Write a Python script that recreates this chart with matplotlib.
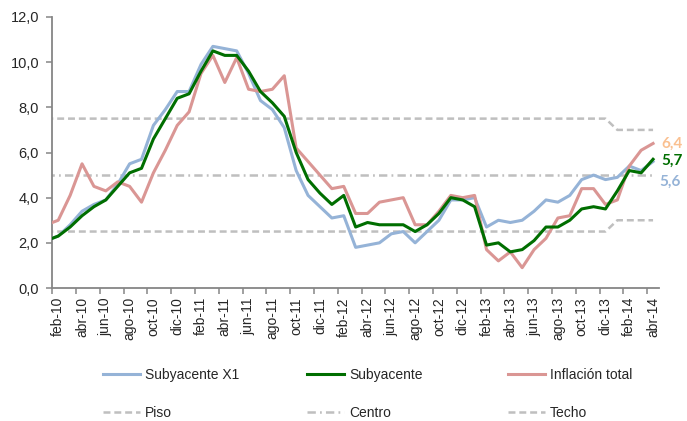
import matplotlib
matplotlib.use("Agg")
import matplotlib.pyplot as plt
import numpy as np

plt.rcParams['font.family'] = ['Liberation Sans', 'DejaVu Sans']
plt.rcParams['lines.scale_dashes'] = False

# months from ene-10 to abr-14
mes = ['ene', 'feb', 'mar', 'abr', 'may', 'jun', 'jul', 'ago', 'sep', 'oct', 'nov', 'dic']
months = [f"{mes[m]}-{y % 100:02d}" for y in range(2010, 2015) for m in range(12)]
months = months[:months.index('abr-14') + 1]

subyacente_x1 = [2.1, 2.3, 2.8, 3.4, 3.7, 3.9, 4.6, 5.5, 5.7, 7.2, 7.9, 8.7, 8.7, 9.9,
                 10.7, 10.6, 10.5, 9.5, 8.3, 7.9, 7.1, 5.2, 4.1, 3.6, 3.1, 3.2, 1.8,
                 1.9, 2.0, 2.4, 2.5, 2.0, 2.5, 3.0, 3.9, 3.9, 4.0, 2.7, 3.0, 2.9, 3.0,
                 3.4, 3.9, 3.8, 4.1, 4.8, 5.0, 4.8, 4.9, 5.4, 5.2, 5.6]
subyacente = [2.1, 2.3, 2.7, 3.2, 3.6, 3.9, 4.5, 5.1, 5.3, 6.6, 7.5, 8.4, 8.6, 9.6,
              10.5, 10.3, 10.3, 9.6, 8.7, 8.2, 7.6, 6.0, 4.8, 4.2, 3.7, 4.1, 2.7,
              2.9, 2.8, 2.8, 2.8, 2.5, 2.8, 3.3, 4.0, 3.9, 3.6, 1.9, 2.0, 1.6, 1.7,
              2.1, 2.7, 2.7, 3.0, 3.5, 3.6, 3.5, 4.3, 5.2, 5.1, 5.7]
inflacion_total = [2.8, 3.0, 4.1, 5.5, 4.5, 4.3, 4.7, 4.5, 3.8, 5.1, 6.1, 7.2, 7.8, 9.5,
                   10.3, 9.1, 10.2, 8.8, 8.7, 8.8, 9.4, 6.2, 5.6, 5.0, 4.4, 4.5, 3.3,
                   3.3, 3.8, 3.9, 4.0, 2.8, 2.8, 3.4, 4.1, 4.0, 4.1, 1.7, 1.2, 1.6, 0.9,
                   1.7, 2.2, 3.1, 3.2, 4.4, 4.4, 3.7, 3.9, 5.4, 6.1, 6.4]
n_before = months.index('ene-14')
piso = [2.5] * n_before + [3.0] * (len(months) - n_before)
centro = [5.0] * len(months)
techo = [7.5] * n_before + [7.0] * (len(months) - n_before)

x = np.arange(len(months))

fig = plt.figure(figsize=(6.87, 4.21), dpi=100)
ax = fig.add_axes([52.3 / 687, 1 - 288 / 421, (659 - 52.3) / 687, (288 - 17) / 421])

gray = '#BFBFBF'
c_blue = '#95B3D7'
c_green = '#006E00'
c_pink = '#DA9694'
lw = 2.2

l_piso, = ax.plot(x, piso, color=gray, lw=1.8, dashes=(5, 2.8), zorder=1)
l_centro, = ax.plot(x, centro, color=gray, lw=1.8, dashes=(6, 3, 1.3, 3), zorder=1)
l_techo, = ax.plot(x, techo, color=gray, lw=1.8, dashes=(5, 2.8), zorder=1)
l_x1, = ax.plot(x, subyacente_x1, color=c_blue, lw=lw, zorder=3)
l_sub, = ax.plot(x, subyacente, color=c_green, lw=lw, zorder=4)
l_inf, = ax.plot(x, inflacion_total, color=c_pink, lw=lw, zorder=3.5)

ax.set_xlim(0.5, len(months) - 0.5)
ax.set_ylim(0, 12)
ax.set_yticks(np.arange(0, 12.1, 2))
ax.set_yticklabels([f"{v:.1f}".replace('.', ',') for v in np.arange(0, 12.1, 2)],
                   fontsize=10.5, color='#262626')
lab_idx = list(range(1, len(months), 2))
ax.set_xticks(lab_idx)
ax.set_xticklabels([months[i] for i in lab_idx], rotation=90, fontsize=10,
                   color='#262626')
ax.set_xticks(np.arange(0.5, len(months) - 1, 2), minor=True)
ax.tick_params(axis='x', which='major', length=0, pad=6.5)
ax.tick_params(axis='x', which='minor', length=4, width=1.1, color='#868686')
ax.tick_params(axis='y', length=4, width=1.1, color='#868686', pad=5.5)

for s in ['top', 'right']:
    ax.spines[s].set_visible(False)
for s in ['left', 'bottom']:
    ax.spines[s].set_color('#868686')
    ax.spines[s].set_linewidth(1.3)

# end labels
last = len(months) - 1
fmt = lambda v: f"{v:.1f}".replace('.', ',')
ax.annotate(fmt(inflacion_total[-1]), (last, inflacion_total[-1]), xytext=(8, 0),
            textcoords='offset pixels', color='#FAC090', fontweight='bold',
            fontsize=11, va='center', ha='left', family=['Lato', 'DejaVu Sans'],
            annotation_clip=False)
ax.annotate(fmt(subyacente[-1]), (last, subyacente[-1]), xytext=(8, -2),
            textcoords='offset pixels', color=c_green, fontweight='bold',
            fontsize=11, va='center', ha='left', family=['Lato', 'DejaVu Sans'],
            annotation_clip=False)
ax.annotate(fmt(subyacente_x1[-1]), (last, subyacente_x1[-1]), xytext=(6, -20),
            textcoords='offset pixels', color=c_blue, fontweight='bold',
            fontsize=11, va='center', ha='left', family=['Lato', 'DejaVu Sans'],
            annotation_clip=False)

# legend: three columns of two rows
cols = [([l_x1, l_piso], ['Subyacente X1', 'Piso'], 103),
        ([l_sub, l_centro], ['Subyacente', 'Centro'], 307),
        ([l_inf, l_techo], ['Inflación total', 'Techo'], 508)]
for hs, ls, xp in cols:
    fig.legend(hs, ls, loc='center left', bbox_to_anchor=(xp / 687, 1 - 394 / 421),
               frameon=False, fontsize=10, handlelength=2.66, handletextpad=0.36,
               borderpad=0, borderaxespad=0, labelspacing=1.75, labelcolor='#262626')

fig.savefig('out.png', dpi=100)
